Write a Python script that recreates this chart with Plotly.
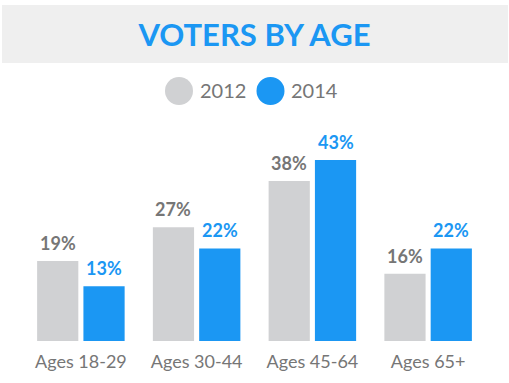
import plotly.graph_objects as go

# ---- data ----
categories = ["Ages 18-29", "Ages 30-44", "Ages 45-64", "Ages 65+"]
series_names = ["2012", "2014"]
values_2012 = [19, 27, 38, 16]
values_2014 = [13, 22, 43, 22]
title_text = "VOTERS BY AGE"

# ---- styling ----
W, H = 509, 383
ML, MR, MT, MB = 23, 23, 120, 42
PW, PH = W - ML - MR, H - MT - MB
GRAY = "#d0d1d3"
BLUE = "#1b97f3"
TEXT_GRAY = "#767676"
FONT = "Lato"
BARGAP, GROUPGAP = 0.2, 0.11
SLOT = PW / len(categories) * (1 - BARGAP) / 2


def px_x(px):
    return (px - ML) / PW


def px_y(py):
    return (H - MB - py) / PH


fig = go.Figure()
colors = [GRAY, BLUE]
label_colors = [TEXT_GRAY, BLUE]
annotations = []
for i, (name, vals, c, lc) in enumerate(zip(series_names, [values_2012, values_2014], colors, label_colors)):
    fig.add_trace(go.Bar(
        x=categories, y=vals, name=name,
        marker=dict(color=c, line=dict(width=0)),
        showlegend=False, hoverinfo="skip",
    ))
    shift = (i - 0.5) * SLOT
    for cat, v in zip(categories, vals):
        annotations.append(dict(
            x=cat, y=v, xref="x", yref="y", text="<b>%d%%</b>" % v,
            xanchor="center", yanchor="bottom", xshift=shift, yshift=5,
            showarrow=False, font=dict(family=FONT, size=18, color=lc)))

shapes = [
    dict(type="rect", xref="paper", yref="paper",
         x0=px_x(2), x1=px_x(508), y0=px_y(63), y1=px_y(5),
         fillcolor="#efefef", line=dict(width=0), layer="below"),
]
legend_circle_x = [179, 270.5]
legend_text_x = [198, 289]
for name, c, cx, tx in zip(series_names, colors, legend_circle_x, legend_text_x):
    shapes.append(dict(type="circle", xref="paper", yref="paper",
                       xsizemode="pixel", ysizemode="pixel",
                       xanchor=px_x(cx), yanchor=px_y(91),
                       x0=-14, x1=14, y0=-14, y1=14,
                       fillcolor=c, line=dict(width=0)))
    annotations.append(dict(text=name, xref="paper", yref="paper",
                            x=px_x(tx), y=px_y(90), xanchor="left", yanchor="middle",
                            showarrow=False,
                            font=dict(family=FONT, size=20, color=TEXT_GRAY)))

fig.update_layout(
    width=W, height=H,
    margin=dict(l=ML, r=MR, t=MT, b=MB),
    paper_bgcolor="white", plot_bgcolor="white",
    barmode="group", bargap=BARGAP, bargroupgap=GROUPGAP,
    title=dict(text="<b>" + title_text + "</b>", x=0.5, xanchor="center",
               y=1 - 35 / H, yanchor="middle",
               font=dict(family=FONT, size=31, color=BLUE)),
    xaxis=dict(showgrid=False, showline=False, zeroline=False, ticks="",
               ticklabelstandoff=8, fixedrange=True,
               tickfont=dict(family=FONT, size=18, color=TEXT_GRAY)),
    yaxis=dict(range=[0, PH / 4.21], visible=False, showgrid=False, zeroline=False,
               fixedrange=True),
    shapes=shapes, annotations=annotations,
    hovermode=False,
)

fig.write_html("out.html", config={"displayModeBar": False},
               post_script="document.body.style.margin='0';")
